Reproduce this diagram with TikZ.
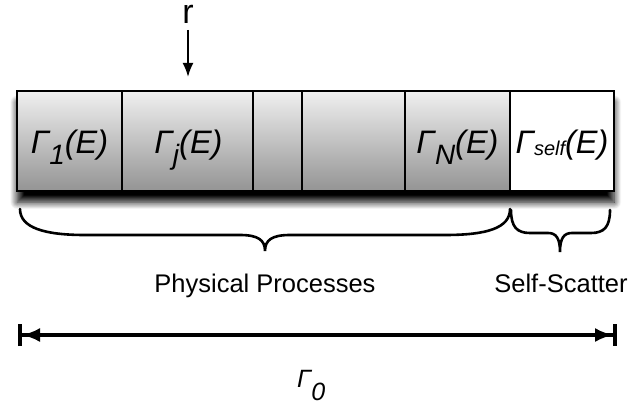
\documentclass[tikz,border=0pt]{standalone}
\usepackage{fontspec}
\setmainfont{Liberation Sans}
\usetikzlibrary{arrows.meta,shadows.blur}

% rate label: Gamma with a subscript, followed by (E)
\newcommand{\ratelbl}[3]{{\itshape Γ\raisebox{-#3}{\fontsize{#2}{#2}\selectfont #1}(E)}}

\begin{document}
\begin{tikzpicture}[x=1pt,y=-1pt,
  cell/.style={draw=black, line width=2pt, minimum height=100pt, inner sep=0pt,
    anchor=north west, text height=24pt, text depth=0pt,
    font=\fontsize{32.5}{36}\selectfont},
  proc/.style={cell, top color=black!6, bottom color=black!42},
  selfcell/.style={cell, fill=white},
  shadowbox/.style={fill=white, minimum width=597pt, minimum height=100pt,
    inner sep=0pt, anchor=north west,
    blur shadow={shadow xshift=1pt, shadow yshift=-12pt, shadow blur radius=7pt,
      shadow blur steps=12, shadow opacity=100}},
  brace/.style={line width=2.6pt, line cap=round},
  caption/.style={anchor=base, font=\fontsize{25.5}{30}\selectfont},
  incoming/.style={line width=2pt, -{Latex[length=14pt,width=11pt]}},
  span/.style={line width=3.2pt,
    {Bar[width=22pt,line width=4pt]Latex[length=18pt,width=14pt]}-{Latex[length=18pt,width=14pt]Bar[width=22pt,line width=4pt]}}
]
\useasboundingbox (0,0) rectangle (631,409);

% shadow under the whole strip
\node[shadowbox] (strip) at (16,90) {};

% the rate cells
\node[proc, minimum width=105pt] (p1) at (16,90) {\ratelbl{1}{28pt}{11pt}};
\node[proc, minimum width=131pt] (pj) at (121,90) {\ratelbl{j}{28pt}{11pt}\kern-2pt};
\node[proc, minimum width=49pt]  (p3) at (252,90) {};
\node[proc, minimum width=103pt] (p4) at (301,90) {};
\node[proc, minimum width=105pt] (pN) at (404,90) {\ratelbl{N}{28pt}{11pt}};
\node[selfcell, minimum width=104pt] (ps) at (509,90) {\ratelbl{self}{20pt}{2pt}};

% incoming r
\node[anchor=base, font=\fontsize{34}{36}\selectfont, inner sep=0pt,
  text height=18pt, text depth=0pt] (r) at (188,23.5) {r};
\coordinate (rtail) at (188,30);
\coordinate (rhead) at (188,77);
\draw[incoming] (rtail) -- (rhead);

% braces
\draw[brace] (20,209) .. controls (20,228) and (45,235) .. (85,235) -- (240,235)
  .. controls (258,235) and (265,240) .. (265,251)
  .. controls (265,240) and (272,235) .. (290,235) -- (445,235)
  .. controls (487,235) and (510,228) .. (510,209);
\draw[brace] (511,210) .. controls (511,227) and (517,233) .. (530,233) -- (548,233)
  .. controls (556,233) and (560,238) .. (560,252)
  .. controls (560,238) and (564,233) .. (572,233) -- (591,233)
  .. controls (604,233) and (610,227) .. (610,210);

\node[caption] (phys) at (265,292) {Physical Processes};
\node[caption] (selfsc) at (561,292) {Self-Scatter};

% total width
\coordinate (gl) at (18,335);
\coordinate (gr) at (617,335);
\draw[span] (gl) -- (gr);
\node[anchor=base west, font=\fontsize{25}{28}\selectfont, inner sep=0pt] (g0) at (297,387)
  {\itshape Γ\raisebox{-13pt}{0}};
\end{tikzpicture}
\end{document}
